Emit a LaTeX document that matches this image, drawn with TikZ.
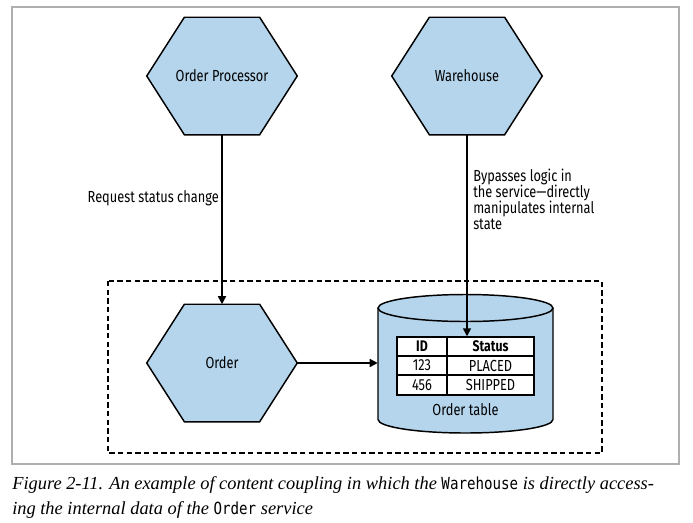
\documentclass[tikz,border=0pt]{standalone}
\usepackage{fontspec}
\setmainfont{Liberation Serif}
\newfontfamily\diag[FakeStretch=0.8]{Fira Sans}
\newfontfamily\mono[FakeStretch=0.85]{DejaVu Sans Mono}
\usetikzlibrary{backgrounds,arrows.meta,calc}
\definecolor{hexblue}{RGB}{180,213,236}
\definecolor{framegray}{RGB}{175,175,175}
\tikzset{
  hexnode/.style={draw=none, minimum width=112.5pt, minimum height=87.75pt, inner sep=0pt, font=\diag\fontsize{12}{12}\selectfont},
  hexline/.style={draw=black, fill=hexblue, line width=1.1pt, line join=miter},
  conn/.style={line width=1.1pt, -{Triangle[length=6pt,width=6pt]}},
  lbl/.style={font=\diag\fontsize{12}{12}\selectfont, inner sep=0pt},
  cell/.style={font=\diag\fontsize{12}{12}\selectfont, inner sep=0pt},
  cellhead/.style={font=\diag\bfseries\fontsize{11.5}{12}\selectfont, inner sep=0pt},
  caption/.style={font=\itshape\fontsize{13.8}{15}\selectfont, inner sep=0pt, anchor=base west},
}
\newcommand\hexdraw[1]{%
  \begin{pgfonlayer}{background}
  \path[hexline] (#1.west) -- ($(#1.north west)!.25!(#1.north east)$) -- ($(#1.north west)!.75!(#1.north east)$)
    -- (#1.east) -- ($(#1.south west)!.75!(#1.south east)$) -- ($(#1.south west)!.25!(#1.south east)$) -- cycle;
  \end{pgfonlayer}}
\begin{document}
\begin{tikzpicture}[x=0.75pt,y=-0.75pt]
\useasboundingbox (0,0) rectangle (693,522);
\draw[framegray, line width=1.1pt] (12,7) rectangle (679,464);
% dashed boundary
\draw[line width=1.1pt, dash pattern=on 4pt off 2.5pt] (108,281) rectangle (602,453);
% hexagons
\node[hexnode] (op) at (222,76) {Order Processor};
\hexdraw{op}
\node[hexnode] (wh) at (467,76) {Warehouse};
\hexdraw{wh}
\node[hexnode] (order) at (222,363) {Order};
\hexdraw{order}
% cylinder
\node[draw=none, minimum width=131.25pt, minimum height=103.5pt, inner sep=0pt] (db) at (465.5,364) {};
\begin{pgfonlayer}{background}
\path[fill=hexblue] (378,308) -- (378,419.5) arc[start angle=180, end angle=360, x radius=87.5, y radius=-13.5] -- (553,308) -- cycle;
\end{pgfonlayer}
\draw[line width=1.1pt, fill=hexblue] (465.5,308) ellipse[x radius=87.5, y radius=13.5];
\draw[line width=1.1pt] (378,308) -- (378,419.5) arc[start angle=180, end angle=360, x radius=87.5, y radius=-13.5] -- (553,308);
% table
\node[draw, fill=white, line width=1.1pt, minimum width=102.75pt, minimum height=43.5pt, inner sep=0pt] (tbl) at (465.5,366) {};
\draw[line width=1.1pt] (397,356) -- (534,356) (397,375) -- (534,375) (447,337) -- (447,395);
\node[cellhead] (h1) at (422,346.5) {ID};
\node[cellhead] (h2) at (490.5,346.5) {Status};
\node[cell] (c11) at (422,365.5) {123};
\node[cell] (c12) at (490.5,365.5) {PLACED};
\node[cell] (c21) at (422,385) {456};
\node[cell] (c22) at (490.5,385) {SHIPPED};
\node[lbl] (dbl) at (465.5,410) {Order table};
% connectors
\draw[conn] (op.south) -- (order.north);
\draw[conn] (wh.south) -- (wh.south |- tbl.north);
\draw[conn] (order.east) -- (order.east -| db.west);
% labels
\node[lbl, anchor=east] (l1) at (219,198) {Request status change};
\node[lbl, anchor=north west, align=left] (l2) at (473,169) {Bypasses logic in\\the service\textemdash directly\\manipulates internal\\state};
% caption
\node[caption] (cap1) at (12,489) {Figure 2-11. An example of content coupling in which the {\upshape\mono\fontsize{12.5}{15}\selectfont Warehouse} is directly access-};
\node[caption] (cap2) at (12,514) {ing the internal data of the {\upshape\mono\fontsize{12.5}{15}\selectfont Order} service};
\end{tikzpicture}
\end{document}
